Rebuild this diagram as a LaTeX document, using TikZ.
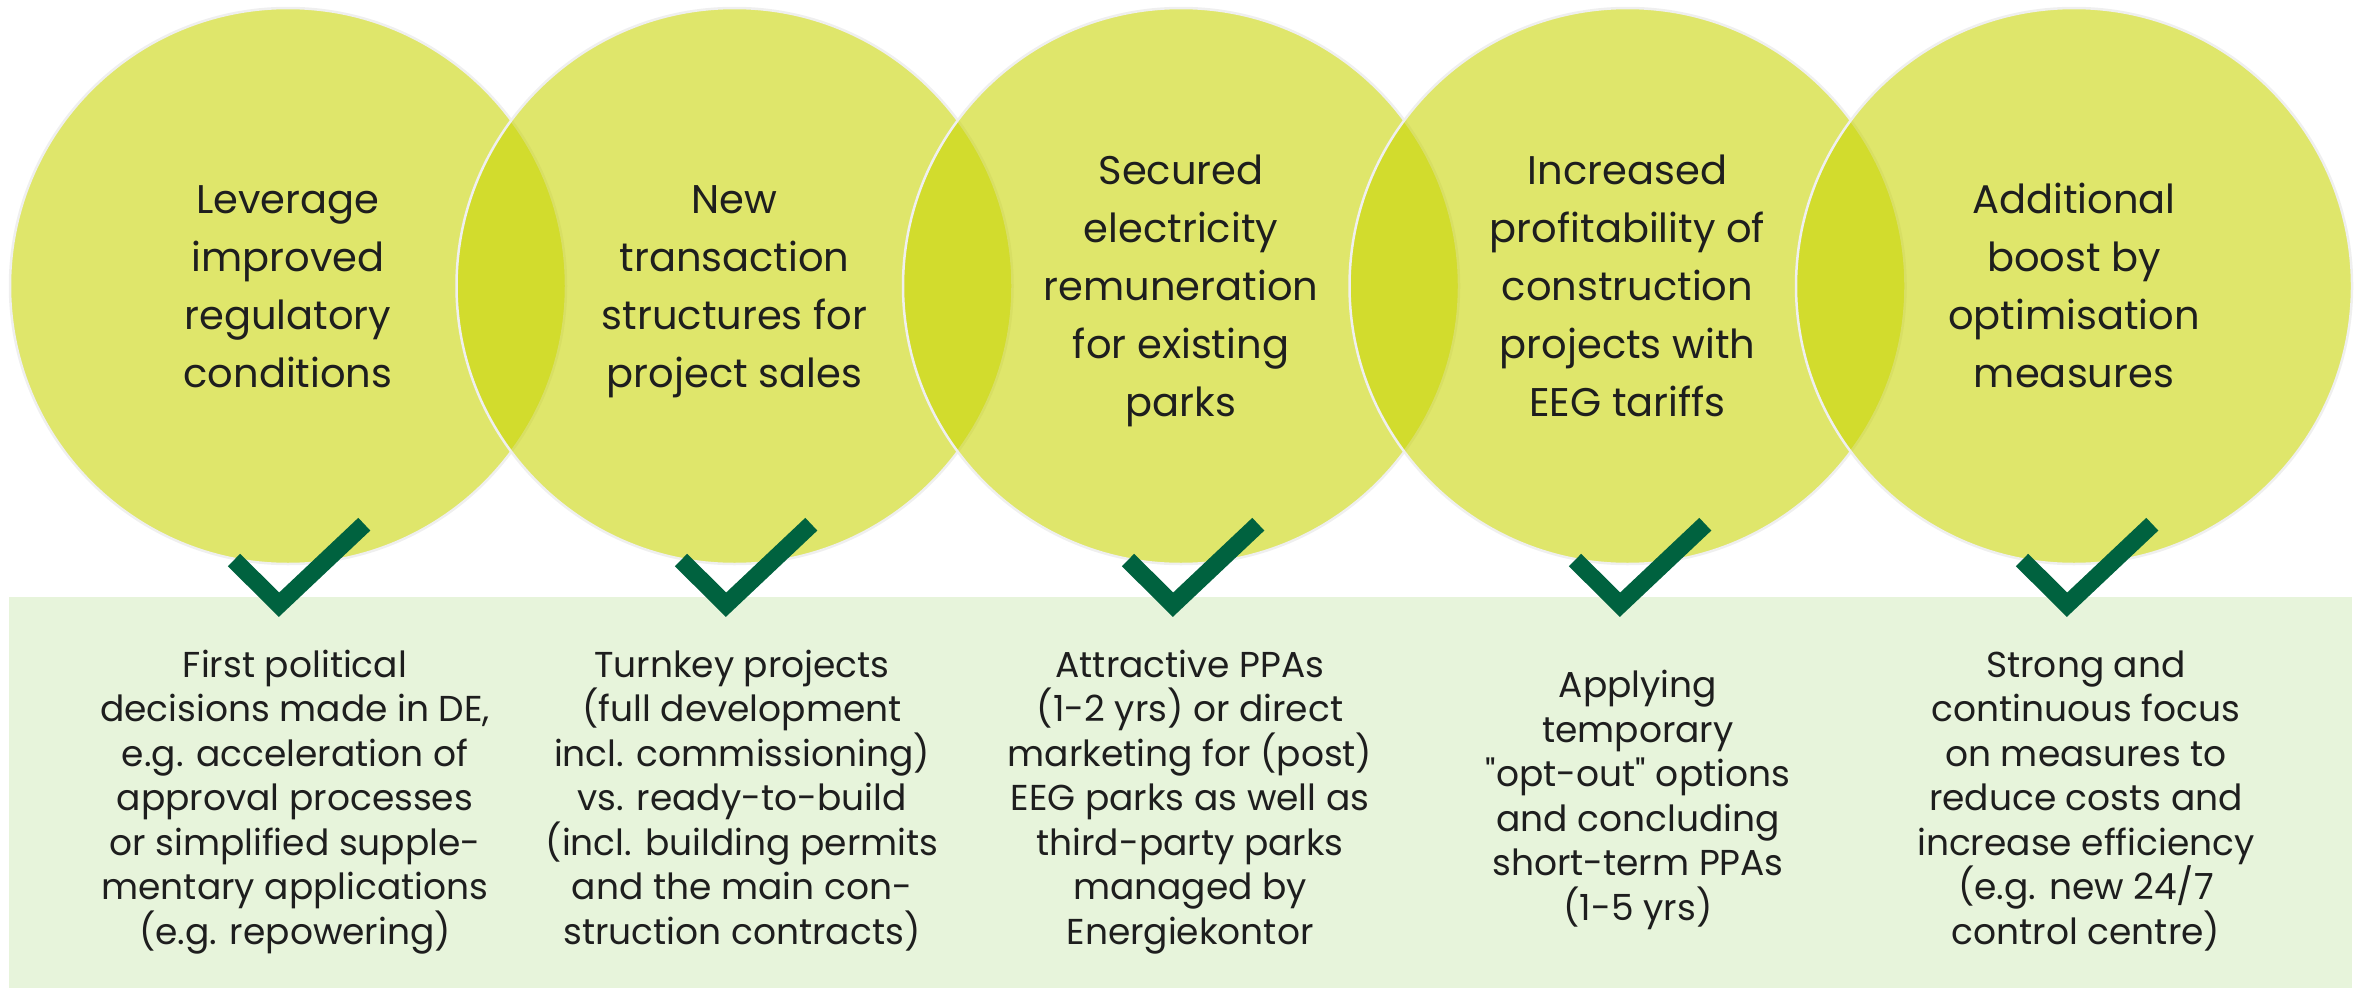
\documentclass[tikz,border=0pt]{standalone}
\usepackage{fontspec}
\setmainfont{Poppins}[Ligatures=TeXOff]
\definecolor{lime}{HTML}{C8D400}
\definecolor{rimgray}{HTML}{EFEFEF}
\definecolor{panelgreen}{HTML}{E7F4DB}
\definecolor{checkgreen}{HTML}{00623F}
\definecolor{ink}{HTML}{1E1E1E}
\begin{document}
\begin{tikzpicture}[x=1pt,y=-1pt,
  bubble/.style={circle, minimum size=556pt, inner sep=0pt, fill=lime, fill opacity=0.58, draw=rimgray, draw opacity=1, line width=2.5pt},
  panel/.style={rectangle, fill=panelgreen, inner sep=0pt, anchor=north west},
  toptext/.style={align=center, inner sep=0pt, text=ink, anchor=base, font=\fontsize{40}{58}\selectfont},
  bottext/.style={align=center, inner sep=0pt, text=ink, anchor=base, font=\fontsize{36}{44.5}\selectfont},
  tick/.style={draw=checkgreen, line width=17.5pt, line join=miter, line cap=butt}
]
\useasboundingbox (0,0) rectangle (2361,993);

% circles
\node[bubble] (c1) at (288,286) {};
\node[bubble] (c2) at (734.5,286) {};
\node[bubble] (c3) at (1181,286) {};
\node[bubble] (c4) at (1627.5,286) {};
\node[bubble] (c5) at (2074,286) {};

% panel
\node[panel, minimum width=2343pt, minimum height=391pt] (panel) at (9,597) {};

% checkmarks
\foreach \i in {0,...,4}{
  \draw[tick, shift={(279+447*\i,604.7)}] (-45,-44.7) -- (0,0) -- (85.3,-80.5);
}

% circle texts (base anchor = last line baseline)
\node[toptext] (h1) at (288,387) {Leverage\\improved\\regulatory\\conditions};
\node[toptext] (h2) at (734.5,387) {New\\transaction\\structures for\\project sales};
\node[toptext] (h3) at (1181,416) {Secured\\electricity\\remuneration\\for existing\\parks};
\node[toptext] (h4) at (1627.5,416) {Increased\\profitability of\\construction\\projects with\\EEG tariffs};
\node[toptext] (h5) at (2074,387) {Additional\\boost by\\optimisation\\measures};

% panel texts
\node[bottext] (b1) at (295,944) {First political\\decisions made in DE,\\e.g. acceleration of\\approval processes\\or simplified supple-\\mentary applications\\(e.g. repowering)};
\node[bottext] (b2) at (742,944) {Turnkey projects\\(full development\\incl. commissioning)\\vs. ready-to-build\\(incl. building permits\\and the main con-\\struction contracts)};
\node[bottext] (b3) at (1190,944) {Attractive PPAs\\(1-2 yrs) or direct\\marketing for (post)\\EEG parks as well as\\third-party parks\\managed by\\Energiekontor};
\node[bottext] (b4) at (1638,920) {Applying\\temporary\\"opt-out" options\\and concluding\\short-term PPAs\\(1-5 yrs)};
\node[bottext] (b5) at (2086,944) {Strong and\\continuous focus\\on measures to\\reduce costs and\\increase efficiency\\(e.g. new 24/7\\control centre)};
\end{tikzpicture}
\end{document}
